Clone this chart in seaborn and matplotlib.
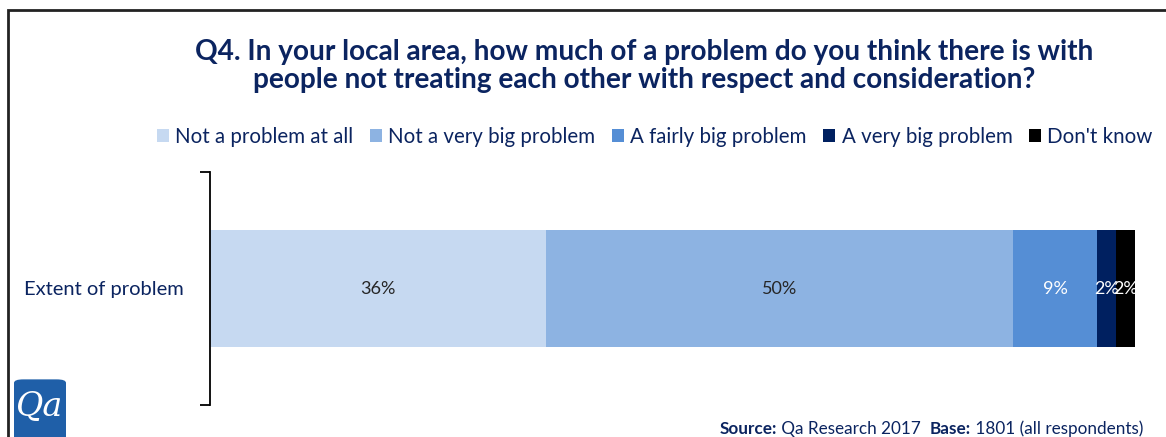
import numpy as np
import pandas as pd
import seaborn as sns
import matplotlib
matplotlib.use("Agg")
import matplotlib.pyplot as plt
from matplotlib.patches import Rectangle, FancyBboxPatch, Patch

# Survey responses for Q4
categories = ["Extent of problem"]
responses = ["Not a problem at all", "Not a very big problem",
             "A fairly big problem", "A very big problem", "Don't know"]
shares = [36, 50, 9, 2, 2]
colors = ["#C6D9F1", "#8DB3E2", "#558ED5", "#002060", "#000000"]
label_colors = ["#262626", "#262626", "white", "white", "white"]

title = ("Q4. In your local area, how much of a problem do you think there is with\n"
         "people not treating each other with respect and consideration?")

sns.set_theme(style="white")
plt.rcParams["font.family"] = ["Lato", "DejaVu Sans"]
navy = "#0B2460"

fig = plt.figure(figsize=(11.66, 4.37), dpi=100)
ax = fig.add_axes([210 / 1166, 32 / 437, 934 / 1166, 233 / 437])

# Stacked bar: draw running totals from the back to the front
df = pd.DataFrame({"response": responses, "share": shares})
df["cum"] = df["share"].cumsum()
for i in reversed(range(len(df))):
    sns.barplot(x=[df["cum"].iloc[i]], y=categories, color=colors[i],
                saturation=1, width=0.5, orient="h", linewidth=0, ax=ax)

for i, row in df.iterrows():
    ax.text(row["cum"] - row["share"] / 2, 0, f"{row['share']}%",
            ha="center", va="center", fontsize=13, color=label_colors[i])

ax.set_xlim(0, 100)
ax.set_ylim(0.5, -0.5)
ax.set_xlabel("")
ax.set_ylabel("")
ax.set_xticks([])
for side in ["top", "right", "bottom"]:
    ax.spines[side].set_visible(False)
ax.spines["left"].set_color("black")
ax.spines["left"].set_linewidth(1.3)
ax.set_yticks([0])
ax.set_yticklabels(categories, fontsize=14.5, color=navy)
ax.tick_params(axis="y", which="major", length=0, pad=19)
ax.set_yticks([-0.5, 0.5], minor=True)
ax.tick_params(axis="y", which="minor", length=7, width=1.3, color="black",
               direction="out", left=True)

# Title
fig.text(644 / 1166, 1 - 66 / 437, title, ha="center", va="center",
         fontsize=20.2, fontweight="bold", color=navy, linespacing=1.08)

# Legend
handles = [Patch(facecolor=c, edgecolor="none", label=r) for r, c in zip(responses, colors)]
fig.legend(handles=handles, loc="center right", bbox_to_anchor=(1161 / 1166, 1 - 137 / 437),
           ncol=5, frameon=False, fontsize=14.8, handlelength=0.6, handleheight=0.6,
           handletextpad=0.3, columnspacing=0.8, labelcolor=navy, borderaxespad=0)

# Outer frame
fig.patches.append(Rectangle((8 / 1166, -0.2), 1.2, 1.2 - 10 / 437,
                             transform=fig.transFigure, fill=False,
                             edgecolor="#222222", linewidth=2, clip_on=False))

# Logo
fig.patches.append(FancyBboxPatch((14 / 1166, -0.01), 52 / 1166, 62 / 437,
                                  boxstyle="round,pad=0,rounding_size=0.008",
                                  transform=fig.transFigure, facecolor="#1F5FA8",
                                  edgecolor="none"))
fig.text(40 / 1166, 30 / 437, "Qa", ha="center", va="center", fontsize=24,
         color="white", family="DejaVu Serif", style="italic")

# Footnote with bold labels
renderer = fig.canvas.get_renderer()
pieces = [("Source:", "bold"), (" Qa Research 2017  ", "normal"),
          ("Base:", "bold"), (" 1801 (all respondents)", "normal")]
x = 1143
y = 1 - 429 / 437
for txt, w in reversed(pieces):
    t = fig.text(x / 1166, y, txt, ha="right", va="center", fontsize=12.3,
                 fontweight=w, color=navy)
    bb = t.get_window_extent(renderer=renderer)
    x -= bb.width

fig.savefig("out.png", dpi=100)
